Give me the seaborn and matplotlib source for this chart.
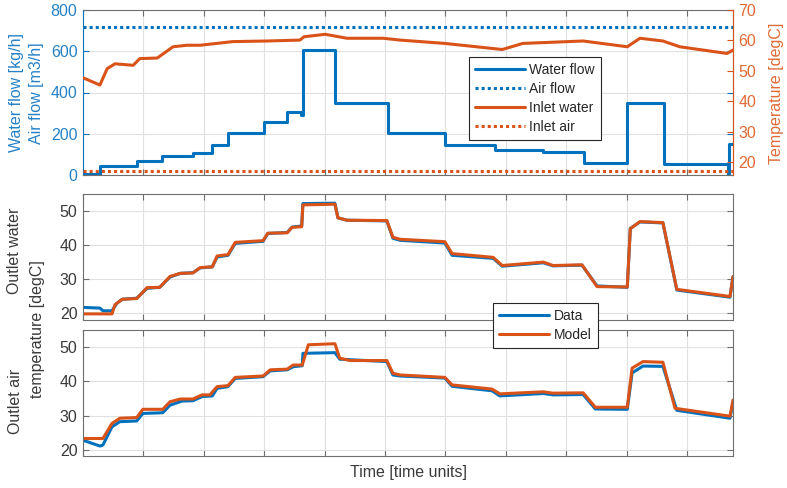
import numpy as np
import pandas as pd
import seaborn as sns
import matplotlib.pyplot as plt

# Style
sns.set_theme(style="white")
plt.rcParams['font.family'] = ['Liberation Sans', 'DejaVu Sans']

BLUE = '#0072BD'
ORANGE = '#D95319'
BLUE_TXT = '#2581C6'
ORANGE_TXT = '#E06A35'
TXT = '#3a3a3a'
EDGE = '#6e6e6e'
GRID = '#e0e0e0'

# ---------------------
# Data
# ---------------------
t_end = 10.76

# Water flow [kg/h] (steps)
flow_t = [0, 0.28, 0.89, 1.31, 1.82, 2.14, 2.40, 3.00, 3.38, 3.61, 3.64, 4.17,
          5.05, 5.99, 6.82, 7.62, 8.29, 9.01, 9.62, 10.67, 10.70, 10.76]
flow_v = [5, 45, 68, 92, 106, 144, 205, 259, 305, 290, 605, 347,
          202, 147, 119, 110, 60, 347, 52, 0, 150, 150]

# Air flow [m3/h] and inlet air temperature [degC] (constant)
air_flow = 720
inlet_air = 17

# Inlet water temperature [degC]
inlet_t = [0, 0.28, 0.40, 0.53, 0.83, 0.94, 1.23, 1.49, 1.72, 1.94, 2.48, 3.05,
           3.59, 3.66, 4.01, 4.37, 4.97, 5.25, 5.99, 6.94, 7.28, 8.28, 9.01,
           9.22, 9.60, 9.88, 10.66, 10.76]
inlet_v = [47.7, 45.3, 50.7, 52.3, 51.8, 54.0, 54.2, 57.9, 58.4, 58.4, 59.6, 59.8,
           60.1, 61.2, 62.0, 60.7, 60.7, 60.1, 59.0, 57.0, 59.0, 59.8, 57.9,
           60.7, 59.8, 57.9, 55.7, 56.8]

# Outlet water temperature [degC]
ow_data_t = [0, 0.28, 0.33, 0.48, 0.56, 0.65, 0.89, 1.06, 1.27, 1.44, 1.61, 1.82,
             1.94, 2.14, 2.22, 2.40, 2.52, 2.98, 3.06, 3.38, 3.46, 3.62, 3.64,
             4.17, 4.22, 4.37, 5.03, 5.13, 5.25, 5.99, 6.11, 6.79, 6.94, 7.62,
             7.78, 8.26, 8.51, 9.01, 9.06, 9.22, 9.60, 9.83, 10.71, 10.76]
ow_data_v = [21.7, 21.5, 20.7, 20.7, 22.9, 24.1, 24.4, 27.3, 27.6, 30.6, 31.7, 31.9,
             33.3, 33.6, 36.5, 37.0, 40.5, 41.1, 43.4, 43.7, 45.3, 45.6, 52.2,
             52.3, 48.0, 47.3, 47.1, 42.0, 41.4, 40.6, 37.0, 36.1, 33.8, 34.8,
             33.9, 34.1, 28.0, 27.6, 44.9, 46.8, 46.5, 26.8, 24.7, 30.7]
ow_model_t = [0, 0.48, 0.53, 0.65, 0.89, 1.06, 1.27, 1.44, 1.61, 1.82, 1.94, 2.14,
              2.22, 2.40, 2.52, 2.98, 3.06, 3.38, 3.46, 3.62, 3.64, 4.17, 4.22,
              4.37, 5.03, 5.13, 5.25, 5.99, 6.11, 6.79, 6.94, 7.62, 7.78, 8.26,
              8.51, 9.01, 9.06, 9.22, 9.60, 9.83, 10.71, 10.76]
ow_model_v = [19.8, 19.8, 22.5, 24.1, 24.3, 27.5, 27.6, 30.8, 31.7, 31.8, 33.4, 33.6,
              36.8, 37.2, 40.8, 41.3, 43.5, 43.6, 45.2, 45.4, 51.8, 52.0, 48.0,
              47.3, 47.2, 42.3, 41.7, 41.0, 37.5, 36.4, 34.0, 35.0, 34.0, 34.2,
              27.8, 27.7, 44.8, 46.9, 46.6, 27.0, 24.9, 30.7]

# Outlet air temperature [degC]
oa_data_t = [0, 0.28, 0.33, 0.48, 0.61, 0.89, 0.99, 1.32, 1.44, 1.64, 1.82, 1.97,
             2.14, 2.22, 2.40, 2.52, 2.98, 3.10, 3.38, 3.48, 3.63, 3.64, 4.17,
             4.25, 5.03, 5.13, 5.25, 5.99, 6.11, 6.77, 6.90, 7.62, 7.78, 8.28,
             8.48, 9.01, 9.09, 9.27, 9.60, 9.83, 10.71, 10.76]
oa_data_v = [22.9, 21.2, 21.5, 26.8, 28.3, 28.5, 30.7, 30.9, 33.1, 34.3, 34.4, 35.6,
             35.8, 38.0, 38.5, 40.9, 41.4, 43.1, 43.4, 44.3, 44.6, 48.2, 48.4,
             46.5, 45.8, 41.9, 41.6, 41.0, 38.6, 37.3, 35.8, 36.5, 36.1, 36.2,
             32.0, 31.9, 42.5, 44.5, 44.4, 31.6, 29.3, 34.0]
oa_model_t = [0, 0.33, 0.48, 0.61, 0.89, 0.99, 1.32, 1.44, 1.61, 1.82, 1.97, 2.10,
              2.22, 2.40, 2.52, 2.98, 3.10, 3.38, 3.48, 3.63, 3.73, 4.17, 4.25,
              4.42, 5.03, 5.13, 5.25, 5.99, 6.11, 6.77, 6.90, 7.62, 7.78, 8.28,
              8.48, 9.01, 9.09, 9.27, 9.60, 9.80, 10.71, 10.76]
oa_model_v = [23.4, 23.4, 27.8, 29.3, 29.5, 31.9, 31.9, 34.1, 34.9, 34.9, 36.1, 36.1,
              38.5, 38.8, 41.2, 41.6, 43.4, 43.6, 44.8, 44.8, 50.7, 51.0, 46.8,
              46.1, 46.1, 42.4, 41.9, 41.2, 39.0, 37.8, 36.4, 37.0, 36.6, 36.7,
              32.5, 32.5, 43.9, 45.8, 45.6, 32.2, 29.9, 34.6]

xticks = np.arange(0, 11)
LW = 2.2
DOT = (0, (1, 1))


def style_axes(ax, ticks_color=TXT):
    ax.set_xlim(0, t_end)
    ax.set_xticks(xticks)
    ax.set_xticklabels([])
    ax.set_xlabel('')
    ax.set_ylabel('')
    ax.grid(True, color=GRID, lw=0.8)
    ax.set_axisbelow(True)
    for s in ax.spines.values():
        s.set_color(EDGE)
        s.set_linewidth(0.8)
    ax.tick_params(direction='in', length=4, width=0.8, colors=EDGE,
                   labelcolor=ticks_color, labelsize=11.5, pad=4,
                   top=True, bottom=True, left=True, right=True)


# ---------------------
# Figure
# ---------------------
fig = plt.figure(figsize=(7.87, 4.88), dpi=100)
L, W = 83 / 787, 650 / 787
ax_top = fig.add_axes([L, 1 - 175 / 488, W, 165 / 488])
ax_mid = fig.add_axes([L, 1 - 320 / 488, W, 126 / 488])
ax_bot = fig.add_axes([L, 1 - 456 / 488, W, 126 / 488])

# Top panel: flows (left) and inlet temperatures (right)
ax_t2 = ax_top.twinx()
sns.lineplot(x=flow_t, y=flow_v, ax=ax_top, color=BLUE, lw=LW,
             drawstyle='steps-post', estimator=None, label='Water flow')
ax_top.axhline(air_flow, color=BLUE, lw=LW, ls=DOT, label='Air flow')
sns.lineplot(x=inlet_t, y=inlet_v, ax=ax_t2, color=ORANGE, lw=LW,
             estimator=None, label='Inlet water')
ax_t2.axhline(inlet_air, color=ORANGE, lw=LW, ls=DOT, label='Inlet air')

style_axes(ax_top, BLUE_TXT)
ax_top.set_ylim(0, 800)
ax_top.set_yticks([0, 200, 400, 600, 800])
ax_top.tick_params(axis='y', colors=BLUE, labelcolor=BLUE_TXT)
ax_top.tick_params(axis='y', right=True)
ax_top.spines['left'].set_color(BLUE)

ax_t2.set_ylim(15.7, 70)
ax_t2.set_yticks([20, 30, 40, 50, 60, 70])
ax_t2.set_ylabel('')
ax_t2.tick_params(axis='y', direction='in', length=4, width=0.8, colors=ORANGE,
                  labelcolor=ORANGE_TXT, labelsize=11.5, pad=4)
for s in ax_t2.spines.values():
    s.set_visible(False)
ax_t2.spines['right'].set_visible(True)
ax_t2.spines['right'].set_color(ORANGE)
ax_t2.spines['right'].set_linewidth(0.8)

h1, l1 = ax_top.get_legend_handles_labels()
h2, l2 = ax_t2.get_legend_handles_labels()
for a in (ax_top, ax_t2):
    if a.get_legend() is not None:
        a.get_legend().remove()
leg = ax_t2.legend(h1 + h2, l1 + l2, loc='upper left',
                   bbox_to_anchor=(469 / 787, 1 - 57 / 488),
                   bbox_transform=fig.transFigure, fontsize=10,
                   frameon=True, fancybox=False, framealpha=1,
                   edgecolor='#262626', handlelength=3.6, labelspacing=0.35,
                   borderpad=0.45, handletextpad=0.3, borderaxespad=0)
leg.get_frame().set_linewidth(0.8)
for t in leg.get_texts():
    t.set_color('#262626')

# Middle panel: outlet water temperature
sns.lineplot(x=ow_data_t, y=ow_data_v, ax=ax_mid, color=BLUE, lw=LW,
             estimator=None, label='Data')
sns.lineplot(x=ow_model_t, y=ow_model_v, ax=ax_mid, color=ORANGE, lw=LW,
             estimator=None, label='Model')
style_axes(ax_mid)
ax_mid.set_ylim(18, 55)
ax_mid.set_yticks([20, 30, 40, 50])

# Bottom panel: outlet air temperature
sns.lineplot(x=oa_data_t, y=oa_data_v, ax=ax_bot, color=BLUE, lw=LW,
             estimator=None)
sns.lineplot(x=oa_model_t, y=oa_model_v, ax=ax_bot, color=ORANGE, lw=LW,
             estimator=None)
style_axes(ax_bot)
ax_bot.set_ylim(18.3, 55)
ax_bot.set_yticks([20, 30, 40, 50])

hm, lm = ax_mid.get_legend_handles_labels()
if ax_mid.get_legend() is not None:
    ax_mid.get_legend().remove()
leg2 = fig.legend(hm, lm, loc='upper left',
                  bbox_to_anchor=(493 / 787, 1 - 303 / 488),
                  fontsize=10, frameon=True, fancybox=False, framealpha=1,
                  edgecolor='#262626', handlelength=3.6, labelspacing=0.35,
                  borderpad=0.45, handletextpad=0.3, borderaxespad=0)
leg2.get_frame().set_linewidth(0.8)
for t in leg2.get_texts():
    t.set_color('#262626')

# Labels
lab = dict(rotation=90, ha='center', va='center', fontsize=11.5)
fig.text(26.5 / 787, 1 - 93 / 488, 'Water flow [kg/h]\nAir flow [m3/h]',
         color=BLUE_TXT, linespacing=1.35, **lab)
fig.text(776 / 787, 1 - 93 / 488, 'Temperature [degC]', color=ORANGE_TXT, **lab)
fig.text(15 / 787, 1 - 251 / 488, 'Outlet water', color=TXT, **lab)
fig.text(38 / 787, 1 - 329 / 488, 'temperature [degC]', color=TXT, **lab)
fig.text(15 / 787, 1 - 401 / 488, 'Outlet air', color=TXT, **lab)
fig.text(408 / 787, 1 - 473 / 488, 'Time [time units]', color=TXT,
         ha='center', va='center', fontsize=11.5)

fig.savefig('out.png', dpi=100)
